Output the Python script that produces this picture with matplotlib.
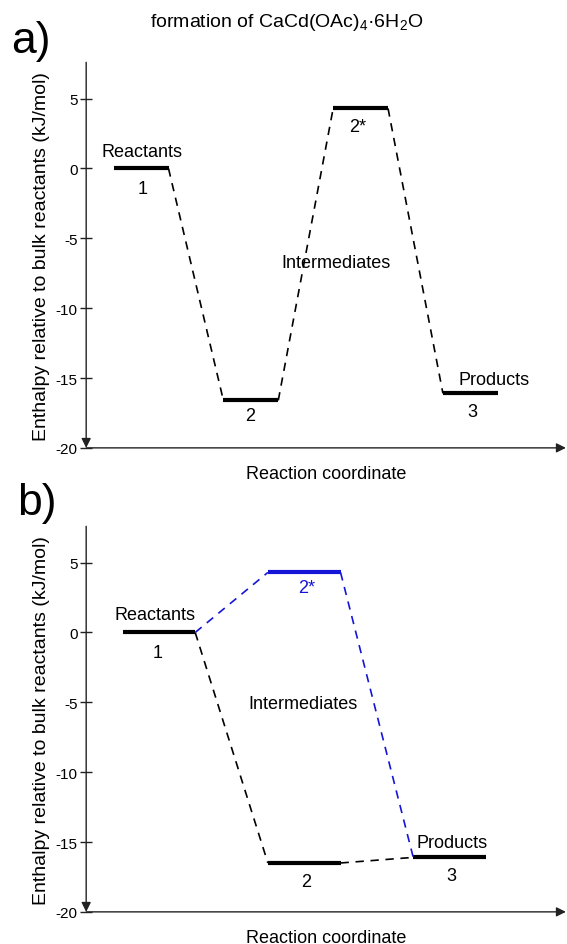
import matplotlib.pyplot as plt

plt.rcParams['font.family'] = ['Liberation Sans', 'DejaVu Sans']
plt.rcParams['mathtext.fontset'] = 'custom'
plt.rcParams['mathtext.rm'] = 'Liberation Sans'
plt.rcParams['axes.unicode_minus'] = False

# panel a: states along the reaction coordinate
a_pos = [0.5, 1.5, 2.5, 3.5]
a_energy = [0.0, -16.6, 4.3, -16.1]
a_names = ['1', '2', '2*', '3']

# panel b
b_pos = [0.5, 1.5, 1.5, 2.5]
b_energy = [0.0, -16.5, 4.3, -16.1]
b_names = ['1', '2', '2*', '3']

yticks = [-20, -15, -10, -5, 0, 5]
blue = '#1515d8'
half = 0.25
fs = 13

fig = plt.figure(figsize=(5.67, 9.45), dpi=100)
ax_a = fig.add_axes([0.152, 0.525, 0.846, 0.408])
ax_b = fig.add_axes([0.152, 0.034, 0.846, 0.408])


def setup(ax, xmax):
    ax.set_xlim(0, xmax)
    ax.set_ylim(-20, 7.6)
    for s in ['top', 'right', 'bottom', 'left']:
        ax.spines[s].set_visible(False)
    ax.set_xticks([])
    ax.set_yticks(yticks)
    ax.tick_params(axis='y', direction='inout', length=8, width=1,
                   color='#222222', labelsize=11, pad=2)
    ax.annotate('', xy=(0, 0), xytext=(0, 1), xycoords='axes fraction',
                arrowprops=dict(arrowstyle='-|>', lw=1, color='#222222',
                                shrinkA=0, shrinkB=0, mutation_scale=14))
    ax.annotate('', xy=(1, 0), xytext=(0, 0), xycoords='axes fraction',
                arrowprops=dict(arrowstyle='-|>', lw=1, color='#222222',
                                shrinkA=0, shrinkB=0, mutation_scale=14))
    ax.set_xlabel('Reaction coordinate', fontsize=fs, labelpad=12)
    ax.set_ylabel('Enthalpy relative to bulk reactants (kJ/mol)', fontsize=14,
                  labelpad=4)


def level(ax, x, y, color='black'):
    ax.plot([x - half, x + half], [y, y], color=color, lw=3,
            solid_capstyle='butt')


def link(ax, i, j, pos, energy, color='black'):
    ax.plot([pos[i] + half, pos[j] - half], [energy[i], energy[j]],
            color=color, lw=1.2, linestyle=(0, (5, 4)))


# ---- panel a ----
setup(ax_a, 4.37)
for x, y in zip(a_pos, a_energy):
    level(ax_a, x, y)
link(ax_a, 0, 1, a_pos, a_energy)
link(ax_a, 1, 2, a_pos, a_energy)
link(ax_a, 2, 3, a_pos, a_energy)

ax_a.text(0.51, 1.2, 'Reactants', fontsize=fs, ha='center', va='center')
ax_a.text(0.51, -1.4, a_names[0], fontsize=fs, ha='center', va='center')
ax_a.text(1.49, -17.7, a_names[1], fontsize=fs, ha='center', va='center')
ax_a.text(2.47, 3.0, a_names[2], fontsize=fs, ha='center', va='center')
ax_a.text(3.52, -17.4, a_names[3], fontsize=fs, ha='center', va='center')
ax_a.text(2.28, -6.7, 'Intermediates', fontsize=fs, ha='center', va='center')
ax_a.text(3.72, -15.1, 'Products', fontsize=fs, ha='center', va='center')

# ---- panel b ----
setup(ax_b, 3.3)
level(ax_b, b_pos[0], b_energy[0])
level(ax_b, b_pos[1], b_energy[1])
level(ax_b, b_pos[2], b_energy[2], color=blue)
level(ax_b, b_pos[3], b_energy[3])
link(ax_b, 0, 1, b_pos, b_energy)
link(ax_b, 1, 3, b_pos, b_energy)
link(ax_b, 0, 2, b_pos, b_energy, color=blue)
link(ax_b, 2, 3, b_pos, b_energy, color=blue)

ax_b.text(0.47, 1.3, 'Reactants', fontsize=fs, ha='center', va='center')
ax_b.text(0.49, -1.4, b_names[0], fontsize=fs, ha='center', va='center')
ax_b.text(1.51, -17.8, b_names[1], fontsize=fs, ha='center', va='center')
ax_b.text(1.52, 3.2, b_names[2], fontsize=fs, ha='center', va='center',
          color=blue)
ax_b.text(2.51, -17.4, b_names[3], fontsize=fs, ha='center', va='center')
ax_b.text(1.49, -5.1, 'Intermediates', fontsize=fs, ha='center', va='center')
ax_b.text(2.52, -15.0, 'Products', fontsize=fs, ha='center', va='center')

fig.text(0.506, 0.976, 'formation of CaCd(OAc)$_4$·6H$_2$O', fontsize=14,
         ha='center', va='center')
fig.text(0.02, 0.956, 'a)', fontsize=32, ha='left', va='center')
fig.text(0.03, 0.467, 'b)', fontsize=32, ha='left', va='center')

fig.savefig('out.png', dpi=100)
